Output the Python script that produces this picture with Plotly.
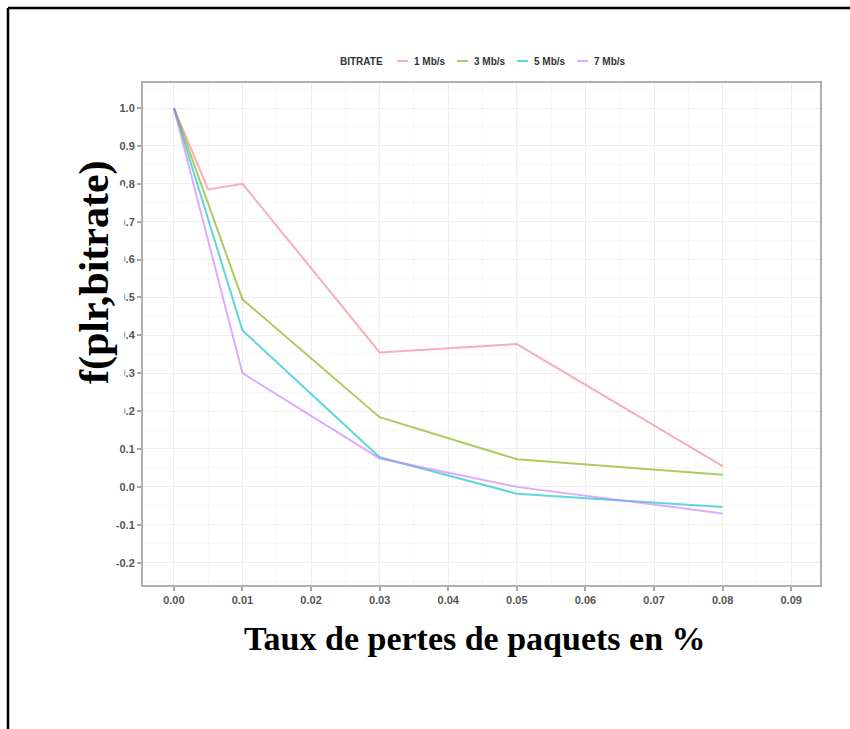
import plotly.graph_objects as go

# ---- data ----
x_1mb = [0.0, 0.005, 0.01, 0.03, 0.05, 0.08]
y_1mb = [1.0, 0.785, 0.80, 0.355, 0.377, 0.055]
x_rest = [0.0, 0.01, 0.03, 0.05, 0.08]
y_3mb = [1.0, 0.495, 0.184, 0.073, 0.032]
y_5mb = [1.0, 0.413, 0.078, -0.018, -0.053]
y_7mb = [1.0, 0.300, 0.075, 0.000, -0.070]
series_names = ["1 Mb/s", "3 Mb/s", "5 Mb/s", "7 Mb/s"]
series_colors = ["#F47F93", "#7CAE00", "#00BFC4", "#C77CFF"]
x_ticks = [0.00, 0.01, 0.02, 0.03, 0.04, 0.05, 0.06, 0.07, 0.08, 0.09]
y_ticks = [-0.2, -0.1, 0.0, 0.1, 0.2, 0.3, 0.4, 0.5, 0.6, 0.7, 0.8, 0.9, 1.0]
legend_title = "BITRATE"

# ---- layout geometry ----
W, H = 850, 729
ML, MR, MT, MB = 143, 30, 83, 144
PW, PH = W - ML - MR, H - MT - MB
LINE_OPACITY = 0.62


def px_x(p):
    return (p - ML) / PW


def px_y(p):
    return 1 - (p - MT) / PH


fig = go.Figure()
xs = [x_1mb, x_rest, x_rest, x_rest]
ys = [y_1mb, y_3mb, y_5mb, y_7mb]
for name, col, xv, yv in zip(series_names, series_colors, xs, ys):
    fig.add_trace(go.Scatter(x=xv, y=yv, mode="lines", name=name,
                             line=dict(color=col, width=2), opacity=LINE_OPACITY,
                             showlegend=False))

tick_font = dict(family="Liberation Sans, Arial", size=11, color="#555555", weight="bold")
axis_common = dict(
    showline=True, linecolor="#b0b0b0", linewidth=2, mirror=True,
    ticks="outside", ticklen=4, tickcolor="#a8a8a8", tickwidth=1.5,
    showgrid=True, gridcolor="#eeeeee", gridwidth=1, zeroline=False,
    tickfont=tick_font,
)
fig.update_xaxes(range=[-0.0045, 0.0942], tickvals=x_ticks,
                 ticktext=[f"{v:.2f}" for v in x_ticks],
                 minor=dict(showgrid=True, gridcolor="#f7f7f7", dtick=0.005, tick0=0),
                 **axis_common)
fig.update_yaxes(range=[-0.259, 1.066], tickvals=y_ticks,
                 ticktext=[f"{v:.1f}" for v in y_ticks],
                 minor=dict(showgrid=True, gridcolor="#f7f7f7", dtick=0.05, tick0=0),
                 **axis_common)

fig.update_layout(
    width=W, height=H,
    margin=dict(l=ML, r=MR, t=MT, b=MB, autoexpand=False),
    paper_bgcolor="white", plot_bgcolor="white",
    showlegend=False,
)

# ---- compact legend across the top (ggplot style) ----
leg_font = dict(family="Liberation Sans, Arial", size=10, color="#333333", weight="bold")
LEG_Y = 61
fig.add_annotation(text=legend_title, xref="paper", yref="paper",
                   x=px_x(338), y=px_y(LEG_Y), xanchor="left", yanchor="middle",
                   showarrow=False, font=leg_font)
for i, (name, col) in enumerate(zip(series_names, series_colors)):
    sx = 397 + i * 60
    fig.add_shape(type="line", xref="paper", yref="paper",
                  x0=px_x(sx), x1=px_x(sx + 11), y0=px_y(LEG_Y), y1=px_y(LEG_Y),
                  line=dict(color=col, width=2), opacity=LINE_OPACITY)
    fig.add_annotation(text=name, xref="paper", yref="paper",
                       x=px_x(sx + 15), y=px_y(LEG_Y), xanchor="left", yanchor="middle",
                       showarrow=False, font=leg_font)

# ---- axis titles (bold serif captions) ----
fig.add_annotation(
    text="<b>Taux de pertes de paquets en %</b>", xref="paper", yref="paper",
    x=px_x(475), y=px_y(638), xanchor="center", yanchor="middle", showarrow=False,
    font=dict(family="Liberation Serif, Times New Roman", size=34, color="black"),
)
# white caption box that masks part of the y tick labels (as in the source document)
fig.add_annotation(
    text=" ", xref="paper", yref="paper",
    x=px_x(95), y=px_y(302), xanchor="center", yanchor="middle", showarrow=False,
    width=56, height=230, bgcolor="white", font=dict(size=4),
)
fig.add_annotation(
    text="<b>f(plr,bitrate)</b>", xref="paper", yref="paper",
    x=px_x(94), y=px_y(272), xanchor="center", yanchor="middle", showarrow=False,
    textangle=-90,
    font=dict(family="Liberation Serif, Times New Roman", size=42, color="black"),
)

# ---- document frame (top and left black rules) ----
fig.add_shape(type="line", xref="paper", yref="paper",
              x0=px_x(8), x1=px_x(W + 5), y0=px_y(8), y1=px_y(8),
              line=dict(color="black", width=2.5))
fig.add_shape(type="line", xref="paper", yref="paper",
              x0=px_x(8), x1=px_x(8), y0=px_y(8), y1=px_y(H + 5),
              line=dict(color="black", width=2.5))

fig.write_html("out.html")
